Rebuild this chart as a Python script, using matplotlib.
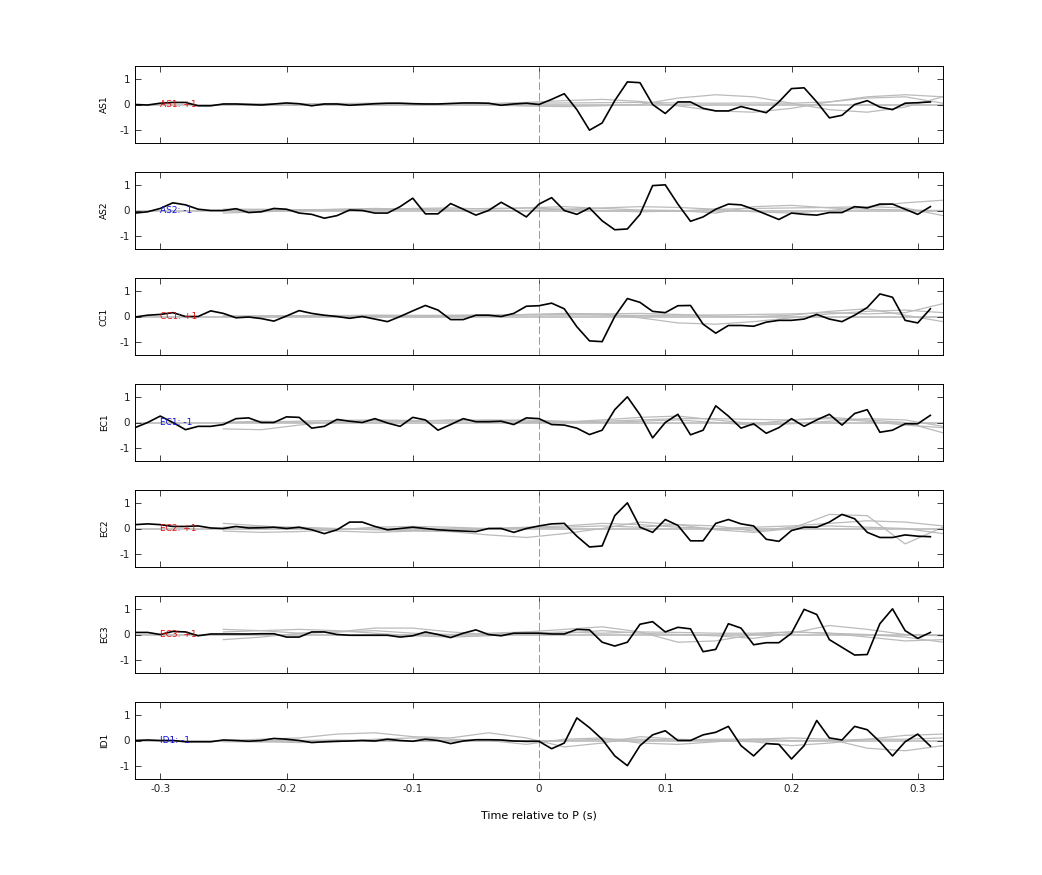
import numpy as np
import matplotlib
matplotlib.use("Agg")
import matplotlib.pyplot as plt

t = np.round(np.arange(-0.32, 0.315, 0.01), 2)
tg = np.round(np.arange(-0.25, 0.325, 0.03), 2)

names = ["AS1", "AS2", "CC1", "EC1", "EC2", "EC3", "ID1"]
signs = ["+1", "-1", "+1", "-1", "+1", "+1", "-1"]

AS1 = [0,-0.02,0.05,0.08,0.08,-0.05,-0.05,0.02,0.02,0.0,-0.02,0.02,0.06,0.03,-0.05,0.02,0.02,-0.03,0.0,0.03,0.05,0.05,0.03,0.02,0.02,0.04,0.06,0.06,0.05,-0.03,0.02,0.05,
       0.0,0.2,0.42,-0.2,-1.0,-0.72,0.15,0.88,0.85,0.0,-0.35,0.1,0.1,-0.15,-0.25,-0.25,-0.08,-0.2,-0.32,0.1,0.62,0.65,0.1,-0.52,-0.42,0.0,0.15,-0.1,-0.2,0.05,0.07,0.1]
AS2 = [-0.1,-0.05,0.08,0.3,0.22,0.05,0.0,0.0,0.07,-0.08,-0.05,0.08,0.05,-0.1,-0.15,-0.3,-0.2,0.02,0.0,-0.1,-0.1,0.15,0.48,-0.13,-0.13,0.27,0.05,-0.18,0.0,0.32,0.05,-0.25,
       0.25,0.5,0.0,-0.15,0.1,-0.4,-0.75,-0.72,-0.15,0.97,1.0,0.25,-0.42,-0.25,0.05,0.25,0.22,0.05,-0.15,-0.35,-0.1,-0.15,-0.18,-0.08,-0.08,0.15,0.1,0.25,0.25,0.05,-0.15,0.15]
CC1 = [-0.02,0.05,0.08,0.15,0.0,0.0,0.22,0.12,-0.05,-0.02,-0.08,-0.18,0.02,0.23,0.12,0.05,0.0,-0.07,0.0,-0.1,-0.2,0.0,0.22,0.43,0.25,-0.12,-0.12,0.05,0.05,0.0,0.12,0.4,
       0.42,0.52,0.3,-0.4,-0.95,-0.98,0.0,0.7,0.55,0.2,0.15,0.42,0.43,-0.3,-0.65,-0.35,-0.35,-0.38,-0.22,-0.15,-0.15,-0.1,0.08,-0.1,-0.2,0.05,0.35,0.88,0.75,-0.15,-0.25,0.3]
EC1 = [-0.2,0.0,0.25,0.0,-0.28,-0.15,-0.15,-0.08,0.15,0.18,0.0,0.0,0.22,0.2,-0.22,-0.15,0.12,0.05,0.0,0.15,-0.02,-0.15,0.2,0.1,-0.3,-0.08,0.15,0.03,0.03,0.05,-0.08,0.18,
       0.15,-0.08,-0.1,-0.22,-0.47,-0.3,0.5,1.0,0.3,-0.6,0.0,0.32,-0.48,-0.3,0.65,0.25,-0.22,-0.05,-0.42,-0.2,0.15,-0.15,0.1,0.32,-0.1,0.35,0.5,-0.38,-0.3,-0.05,-0.05,0.28]
EC2 = [0.15,0.18,0.15,0.08,0.08,0.1,0.02,0.0,0.08,0.02,0.03,0.05,0.0,0.05,-0.05,-0.2,-0.05,0.25,0.25,0.08,-0.05,0.0,0.05,0.0,-0.05,-0.08,-0.1,-0.12,0.0,0.0,-0.15,0.0,
       0.1,0.18,0.2,-0.3,-0.72,-0.68,0.5,1.0,0.05,-0.15,0.35,0.12,-0.48,-0.48,0.2,0.35,0.18,0.1,-0.42,-0.5,-0.08,0.05,0.05,0.25,0.55,0.38,-0.15,-0.35,-0.35,-0.25,-0.3,-0.32]
EC3 = [0.08,0.08,0.0,0.12,0.1,-0.05,0.02,0.02,0.02,0.02,0.03,0.03,-0.1,-0.1,0.1,0.1,0.0,-0.03,-0.03,-0.03,-0.03,-0.1,-0.05,0.1,0.0,-0.12,0.05,0.18,0.0,-0.05,0.05,0.05,
       0.05,0.02,0.02,0.2,0.18,-0.3,-0.45,-0.3,0.4,0.5,0.1,0.28,0.22,-0.67,-0.58,0.42,0.25,-0.4,-0.32,-0.32,0.05,0.98,0.78,-0.2,-0.5,-0.8,-0.78,0.42,1.0,0.15,-0.15,0.08]
ID1 = [0.0,0.02,0.0,0.0,-0.05,-0.05,-0.05,0.02,0.0,-0.03,0.0,0.08,0.05,0.0,-0.08,-0.05,-0.03,-0.02,0.0,-0.02,0.05,0.0,-0.03,0.05,0.0,-0.12,-0.02,0.03,0.03,0.02,-0.02,-0.03,
       -0.03,-0.32,-0.1,0.88,0.5,0.05,-0.6,-0.98,-0.2,0.22,0.38,0.0,0.0,0.22,0.32,0.55,-0.2,-0.6,-0.12,-0.15,-0.72,-0.2,0.78,0.1,0.02,0.55,0.42,-0.05,-0.6,-0.05,0.25,-0.22]
black = [AS1, AS2, CC1, EC1, EC2, EC3, ID1]

# grey background traces sampled at tg (-0.25 ... 0.32 step 0.03)
grey = [
    [[0,0.02,0.03,0.02,0,-0.02,0,0.03,0.08,0.15,0.2,0.12,-0.05,-0.25,-0.3,-0.15,0.1,0.3,0.38,0.3],
     [0,-0.02,-0.03,0,0.02,0.03,0.02,-0.02,-0.06,-0.08,-0.05,0,0.25,0.38,0.3,0.05,-0.2,-0.3,-0.1,0.3],
     [0.02,0.03,0.02,0.04,0.05,0.04,0.03,0.04,0.05,0.06,0.07,0.08,0.06,0.05,0.06,0.05,0.1,0.25,0.3,0.05]],
    [[-0.1,-0.05,0,0.05,0.08,0.05,0,-0.02,0,0.05,0.1,0.15,0.12,0.05,-0.05,-0.1,0,0.15,0.3,0.4],
     [0.05,0.05,0.02,0,0.02,0.08,0.1,0.05,0.1,0.15,0.08,0.02,0,-0.1,0.15,0.2,0.1,0.05,0.02,0],
     [0,0.02,0.03,0.04,0.05,0.06,0.05,0.08,0.1,0.05,0,-0.05,-0.02,0.05,0.08,0.1,0.12,0.15,0.1,-0.2]],
    [[0,0.02,0.03,0.02,0,-0.02,0,0.03,0.08,0.12,0.1,-0.05,-0.25,-0.3,-0.2,-0.05,0.1,0.2,0.25,0.15],
     [0,0,0.02,0.03,0.05,0.04,0.03,0.05,0.07,0.06,0.1,0.12,0.08,0.02,0,0.05,0.2,0.3,0.05,-0.2],
     [0.02,0.02,0.03,0.04,0.04,0.04,0.05,0.06,0.06,0.07,0.05,0.04,0.05,0.06,0.08,0.1,0.15,0.1,0.15,0.5]],
    [[-0.25,-0.28,-0.1,0.05,0.08,0.05,0.1,0.05,0,0.02,0.1,0.2,0.25,0.1,-0.05,0.1,0.2,0.1,0,-0.4],
     [0,0.02,0.05,0.08,0.1,0.08,0.05,0.08,0.1,0.05,0,0.05,0.1,0.0,-0.1,-0.05,0.05,0.15,0.1,-0.15],
     [0,0.05,0.02,0,0.02,0.05,0.08,0.1,0.05,0.02,0.05,0.1,0.15,0.15,0.12,0.1,0.15,0.05,-0.1,-0.2]],
    [[0.2,0.1,0,-0.1,-0.15,-0.1,-0.12,-0.25,-0.35,-0.2,0,0.25,0.15,-0.05,-0.15,0,0.55,0.5,-0.6,0.05],
     [-0.1,-0.15,-0.12,-0.05,0.05,0.08,0.05,0,0.05,0.1,0.2,0.15,0.05,0.0,0.05,0.1,0.2,0.3,0.25,0.1],
     [0.05,0.08,0.05,0,-0.05,-0.08,-0.05,0,0.02,0.05,0.1,0.05,0.15,0.1,-0.1,0.05,0.1,0.05,0.0,-0.2]],
    [[0.2,0.15,0.05,0.1,0.25,0.25,0.1,0,0.1,0.2,0.3,0.1,-0.3,-0.25,0,0.1,0.05,0,-0.1,-0.3],
     [-0.2,-0.1,0.05,0.1,0.15,0.05,0,0.05,0.1,0.05,0.15,0.05,0,-0.05,-0.15,0.05,0.35,0.2,0.0,-0.05],
     [0.1,0.15,0.2,0.15,0.05,-0.05,-0.1,-0.05,0.05,0.1,0.05,0.1,0.08,0.05,0.05,0.1,0.05,-0.1,-0.25,-0.2]],
    [[0,0.05,0.1,0.25,0.3,0.15,0.1,0.3,0.1,-0.25,-0.1,0.15,0.05,0.0,-0.05,-0.2,-0.1,0.05,0.2,0.25],
     [0,-0.05,-0.08,-0.05,0.05,0.1,0.05,0,-0.15,0.05,0.1,-0.1,-0.15,-0.05,0.05,0.1,0.05,-0.3,-0.4,-0.2],
     [-0.05,-0.05,0.0,0.02,0.0,-0.02,0.0,0.02,-0.05,0.0,0.05,0.05,0.02,0.05,0.05,0.0,0.0,0.05,0.05,0.1]],
]

fig = plt.figure(figsize=(10.42, 8.75), dpi=100)
W, H = 1042, 875
left, right = 135, 943
for i, name in enumerate(names):
    top = 66 + i * 106.0
    ax = fig.add_axes([left / W, 1 - (top + 77) / H, (right - left) / W, 77 / H])
    ax.axhline(0, color="#bbbbbb", lw=1.2, zorder=1)
    for g in grey[i]:
        ax.plot(tg, g, color="#bbbbbb", lw=0.9, zorder=1)
    ax.plot(t, black[i], color="black", lw=1.2, zorder=3)
    ax.axvline(0, color="#999999", lw=0.7, ls=(0, (8, 3)), zorder=2)
    col = "#e01010" if signs[i] == "+1" else "#1010e0"
    ax.text(-0.30, 0, f"{name}: {signs[i]}", color=col, fontsize=6.5, va="center", ha="left", zorder=4)
    ax.set_xlim(-0.32, 0.32)
    ax.set_ylim(-1.5, 1.5)
    ax.set_yticks([-1, 0, 1])
    ax.set_yticklabels(["-1", "0", "1"])
    ax.set_xticks([-0.3, -0.2, -0.1, 0, 0.1, 0.2, 0.3])
    ax.tick_params(direction="in", top=True, right=True, labelsize=7.5, length=4, width=0.6, colors="#222222")
    for s in ax.spines.values():
        s.set_linewidth(0.7)
    ax.set_ylabel(name, fontsize=6.5, labelpad=8)
    if i < len(names) - 1:
        ax.set_xticklabels([])
    else:
        ax.set_xticklabels(["-0.3", "-0.2", "-0.1", "0", "0.1", "0.2", "0.3"])
        ax.set_xlabel("Time relative to P (s)", fontsize=8, labelpad=12)

fig.savefig("out.png", dpi=100)
